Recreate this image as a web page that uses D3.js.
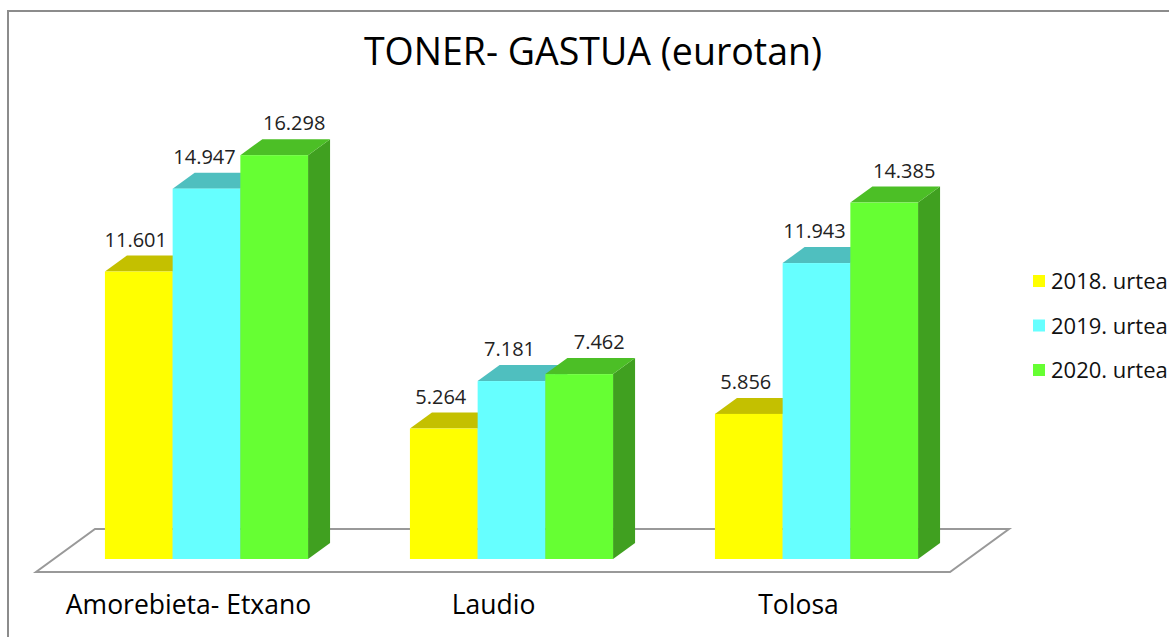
<!DOCTYPE html>
<html>
<head>
<meta charset="utf-8">
<script src="https://cdn.jsdelivr.net/npm/d3@7"></script>
<style>
  body { margin: 0; background: #fff; }
  svg { display: block; font-family: "Open Sans", "Noto Sans", sans-serif; }
</style>
</head>
<body>
<svg id="chart" width="1169" height="637"></svg>
<script>
// data
var categories = ["Amorebieta- Etxano", "Laudio", "Tolosa"];
var series = ["2018. urtea", "2019. urtea", "2020. urtea"];
var values2018 = [11601, 5264, 5856];
var values2019 = [14947, 7181, 11943];
var values2020 = [16298, 7462, 14385];
var valueLabels = [
    ["11.601", "5.264", "5.856"],
    ["14.947", "7.181", "11.943"],
    ["16.298", "7.462", "14.385"]
];

var front = ["#ffff00", "#66ffff", "#66ff33"];
var top_ = ["#c4c000", "#4fbfbf", "#4cbf26"];
var side = ["#a8a400", "#3fa0a0", "#40a020"];
var labelShift = [-3, -2, 20];

var svg = d3.select("#chart");
var dx = 22, dy = -16;         // bar depth
var fdx = 59, fdy = -43;       // floor depth

// frame
svg.append("rect")
    .attr("x", 8).attr("y", 11)
    .attr("width", 1200).attr("height", 700)
    .attr("fill", "#fff")
    .attr("stroke", "#8c8c8c")
    .attr("stroke-width", 2);

svg.append("text")
    .attr("x", 593).attr("y", 65)
    .attr("text-anchor", "middle")
    .attr("font-size", 37.5)
    .attr("fill", "#000")
    .text("TONER- GASTUA (eurotan)");

var x0 = d3.scaleBand().domain(categories)
    .range([54, 969]).paddingInner(0.334).paddingOuter(0.167);
var x1 = d3.scaleBand().domain(series).range([0, x0.bandwidth()]);
var y = d3.scaleLinear().domain([0, 18000]).range([559, 113]);

// floor
var fl = 36, fr = 950, fy = 572;
svg.append("path")
    .attr("d", "M" + fl + "," + fy + "L" + fr + "," + fy +
        "L" + (fr + fdx) + "," + (fy + fdy) + "L" + (fl + fdx) + "," + (fy + fdy) + "Z")
    .attr("fill", "#fff")
    .attr("stroke", "#999")
    .attr("stroke-width", 2);

var allValues = [values2018, values2019, values2020];
var bars = [];
categories.forEach(function (c, ci) {
    series.forEach(function (s, si) {
        bars.push({ cat: c, ci: ci, si: si, v: allValues[si][ci], label: valueLabels[si][ci] });
    });
});

var g = svg.append("g");
var bw = x1.bandwidth();
var bar = g.selectAll("g.bar").data(bars).enter().append("g").attr("class", "bar");

bar.each(function (d) {
    var el = d3.select(this);
    var xl = x0(d.cat) + x1(series[d.si]);
    var xr = xl + bw;
    var yt = y(d.v), yb = y(0);
    // side
    el.append("path")
        .attr("d", "M" + xr + "," + yb + "L" + (xr + dx) + "," + (yb + dy) +
            "L" + (xr + dx) + "," + (yt + dy) + "L" + xr + "," + yt + "Z")
        .attr("fill", side[d.si]);
    // top
    el.append("path")
        .attr("d", "M" + xl + "," + yt + "L" + xr + "," + yt +
            "L" + (xr + dx) + "," + (yt + dy) + "L" + (xl + dx) + "," + (yt + dy) + "Z")
        .attr("fill", top_[d.si]);
    // front
    el.append("rect")
        .attr("x", xl).attr("y", yt)
        .attr("width", bw).attr("height", yb - yt)
        .attr("fill", front[d.si]);
});

// value labels
svg.selectAll("text.val").data(bars).enter().append("text")
    .attr("class", "val")
    .attr("x", function (d) { return x0(d.cat) + x1(series[d.si]) + bw / 2 + labelShift[d.si]; })
    .attr("y", function (d) { return y(d.v) + dy - 9; })
    .attr("text-anchor", "middle")
    .attr("font-size", 20)
    .attr("fill", "#222")
    .text(function (d) { return d.label; });

// category labels
svg.selectAll("text.cat").data(categories).enter().append("text")
    .attr("class", "cat")
    .attr("x", function (d) { return x0(d) + x0.bandwidth() / 2 - 18; })
    .attr("y", 614)
    .attr("text-anchor", "middle")
    .attr("font-size", 26.5)
    .attr("fill", "#000")
    .text(function (d) { return d; });

// legend
var leg = svg.selectAll("g.leg").data(series).enter().append("g")
    .attr("class", "leg")
    .attr("transform", function (d, i) { return "translate(1033," + (281 + i * 44.5) + ")"; });
leg.append("rect")
    .attr("x", 0).attr("y", -6)
    .attr("width", 12).attr("height", 12)
    .attr("fill", function (d, i) { return front[i]; });
leg.append("text")
    .attr("x", 18).attr("y", 8)
    .attr("font-size", 22)
    .attr("fill", "#111")
    .text(function (d) { return d; });
</script>
</body>
</html>
